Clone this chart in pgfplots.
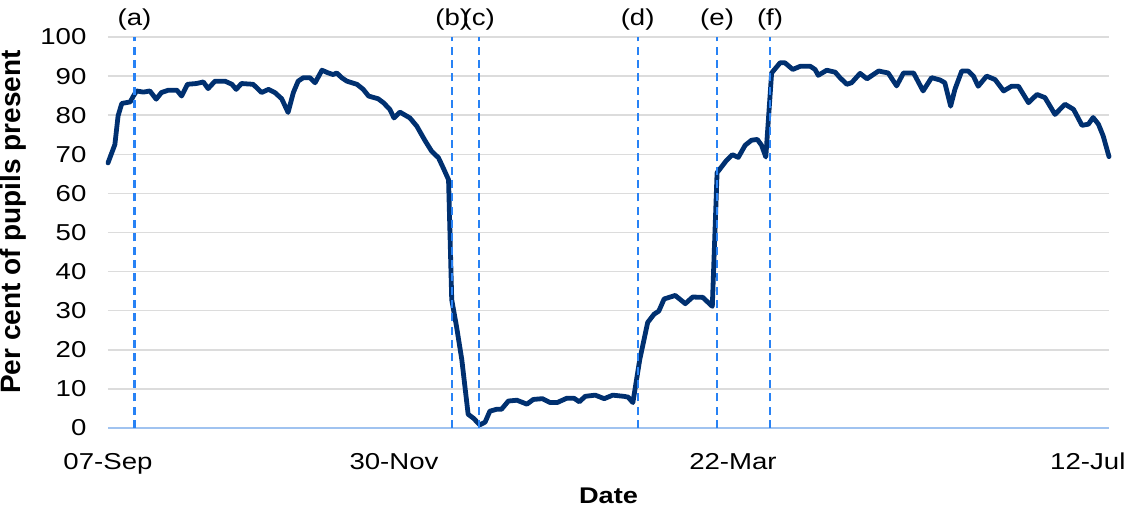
\documentclass[border=0pt]{standalone}
\usepackage{fontspec}
\setmainfont{Liberation Sans}[FakeStretch=1.2]
\newfontfamily\ylabfont{Liberation Sans}
\usepackage{pgfplots}
\pgfplotsset{compat=1.18}
\definecolor{navy}{RGB}{0,48,112}
\definecolor{vline}{RGB}{40,130,245}
\definecolor{gridc}{RGB}{220,220,220}
\definecolor{axisc}{RGB}{160,195,240}
\begin{document}
\begin{tikzpicture}
\begin{axis}[width=750.75pt, height=293.25pt, scale only axis,
  xmin=0, xmax=189, ymin=0, ymax=100,
  clip=false,
  axis line style={draw=none}, tick style={draw=none},
  ytick={10,20,...,100},
  extra y ticks={0}, extra y tick labels={0},
  extra y tick style={major grid style={axisc, line width=0.9pt}},
  ymajorgrids, major grid style={gridc, line width=1.1pt},
  xtick={0,54,118,185},
  xticklabels={07-Sep,30-Nov,22-Mar,12-Jul},
  tick label style={font=\fontsize{17.25}{19}\selectfont},
  /pgf/number format/assume math mode=true,
  yticklabel style={anchor=east, inner sep=0pt, xshift=-16pt},
  xticklabel style={anchor=north, inner sep=0pt, yshift=-18.75pt},
  xlabel={\bfseries Date},
  xlabel style={at={(axis description cs:0.5,-0.1535)}, anchor=north, inner sep=0pt, font=\fontsize{17}{19}\selectfont},
  ylabel={\ylabfont\bfseries Per cent of pupils present},
  ylabel style={at={(axis description cs:-0.0809,0.527)}, anchor=south, inner sep=0pt, font=\fontsize{21}{22}\selectfont},
]
\coordinate (SW) at (rel axis cs:0,0);
\coordinate (NE) at (rel axis cs:1,1);
\addplot[navy, line width=3.6pt, line join=round, line cap=round] coordinates {
(0.0,67.8) (1.3,72.5) (1.9,79.8) (2.6,83.0) (4.2,83.4) (4.8,84.9) (5.4,86.2)
(6.7,85.9) (7.9,86.2) (9.1,84.1) (10.1,85.8) (11.4,86.4) (13.0,86.4) (13.9,84.9)
(15.0,87.9) (16.7,88.1) (18.0,88.5) (18.9,86.8) (20.2,88.7) (22.1,88.7) (23.4,87.9)
(24.2,86.6) (25.2,88.1) (27.4,87.9) (29.0,85.8) (30.3,86.6) (31.5,85.8) (32.8,84.2)
(34.0,80.7) (35.0,85.8) (35.9,88.7) (36.9,89.6) (38.1,89.6) (39.1,88.3) (40.4,91.5)
(41.6,90.8) (42.5,90.4) (43.2,90.8) (44.1,89.6) (45.1,88.7) (47.0,87.9) (48.2,86.6)
(49.2,84.9) (51.0,84.2) (52.0,83.2) (53.2,81.5) (54.0,79.3) (55.1,80.8) (57.0,79.3)
(58.3,77.2) (59.9,73.4) (61.1,70.8) (62.4,69.1) (63.3,66.5) (64.3,63.5) (64.9,32.8)
(65.8,26.0) (66.8,17.5) (68.0,3.5) (69.0,2.5) (70.2,0.8) (71.2,1.5) (72.1,4.3)
(73.4,4.8) (74.3,4.8) (75.6,6.9) (77.2,7.1) (79.1,6.1) (80.3,7.3) (82.0,7.5)
(83.5,6.5) (84.8,6.5) (86.6,7.6) (88.0,7.6) (89.0,6.7) (90.1,8.1) (92.0,8.4)
(93.7,7.5) (95.3,8.4) (97.4,8.1) (98.2,7.9) (99.1,6.5) (100.4,17.5) (101.9,27.0)
(103.1,29.1) (104.0,29.9) (105.0,33.0) (107.1,33.9) (109.0,31.8) (110.4,33.5)
(112.3,33.4) (114.1,31.1) (115.0,65.3) (116.7,68.3) (117.9,69.9) (119.0,69.2)
(120.3,72.3) (121.5,73.6) (122.6,73.8) (123.4,72.3) (124.2,69.3) (125.3,90.8)
(126.9,93.4) (127.8,93.4) (129.3,91.7) (130.7,92.5) (132.6,92.5) (133.5,91.7)
(134.1,90.2) (135.7,91.5) (137.3,91.0) (138.2,89.6) (139.5,87.9) (140.4,88.3)
(142.0,90.7) (143.3,89.3) (145.5,91.3) (147.3,90.8) (148.9,87.5) (150.2,90.8)
(152.1,90.8) (153.9,86.2) (155.5,89.6) (157.1,89.0) (158.0,88.3) (159.1,82.3)
(159.9,86.6) (161.2,91.3) (162.4,91.3) (163.4,90.0) (164.3,87.4) (165.9,90.0)
(167.5,89.1) (169.1,86.2) (170.6,87.4) (171.9,87.4) (173.8,83.2) (175.4,85.3)
(176.9,84.5) (178.8,80.2) (180.7,82.8) (182.3,81.5) (183.9,77.4) (185.1,77.7)
(186.0,79.4) (187.0,77.7) (187.9,74.7) (189.0,69.4)
};
\pgfplotsinvokeforeach{5,65,70,100,115,125}{
  \addplot[vline, line width=1.6pt, dash pattern=on 6pt off 4pt] coordinates {(#1,0) (#1,100)};
}
\foreach \x/\t in {5/(a),65/(b),70/(c),100/(d),115/(e),125/(f)}{
  \edef\temp{\noexpand\node[anchor=south, inner sep=0pt, yshift=5pt, font=\noexpand\fontsize{17.25}{19}\noexpand\selectfont] at (axis cs:\x,100) {\t};}
  \temp
}
\end{axis}
\pgfresetboundingbox
\path[use as bounding box] ([shift={(-81pt,-66pt)}]SW) rectangle ([shift={(18.75pt,27.75pt)}]NE);
\end{tikzpicture}
\end{document}
